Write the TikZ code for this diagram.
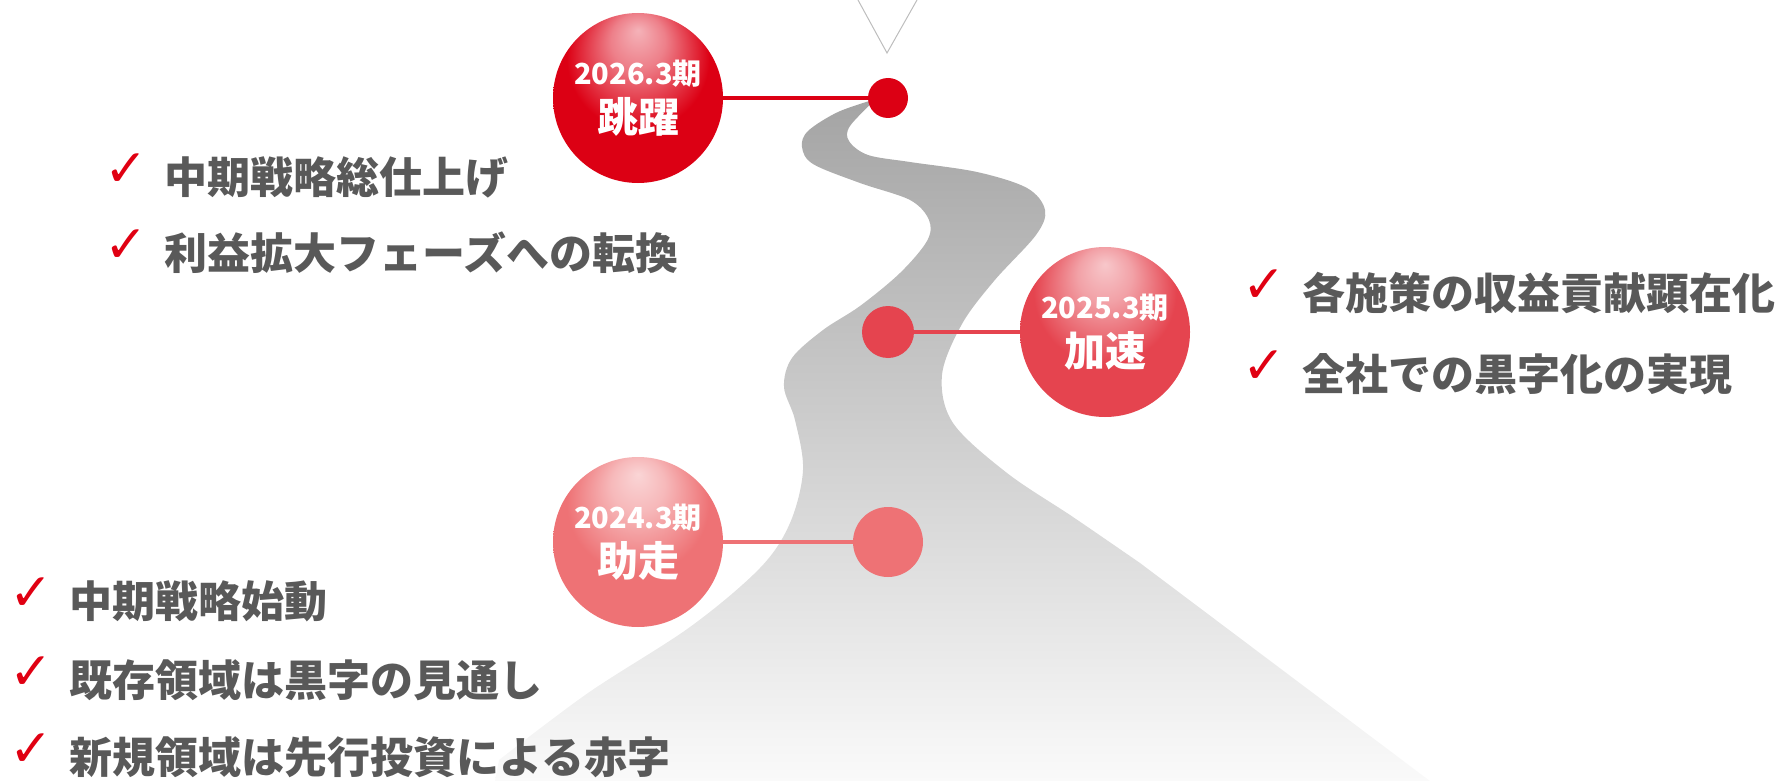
\documentclass[tikz,border=0pt]{standalone}
\usepackage{fontspec}
\setmainfont{Noto Sans CJK JP}
\newfontfamily\symfont{DejaVu Sans}
\usetikzlibrary{positioning}

\definecolor{leap}{HTML}{DC0014}
\definecolor{speed}{HTML}{E5444F}
\definecolor{runup}{HTML}{EE7275}
\definecolor{mark}{HTML}{E00012}
\definecolor{textgray}{HTML}{595959}
\definecolor{vgray}{HTML}{BDBDBD}
\definecolor{roadtop}{HTML}{A4A4A4}
\definecolor{roadmid}{HTML}{DEDEDE}
\definecolor{roadbot}{HTML}{FAFAFA}
\colorlet{tone}{leap}

% glossy ball: light spot near the top, solid colour below
\pgfdeclareradialshading[tone]{glossy}{\pgfpoint{0bp}{20bp}}{color(0bp)=(tone!30!white); color(8bp)=(tone!50!white); color(21bp)=(tone); color(50bp)=(tone)}

\newcommand{\tick}{\textcolor{mark}{\raisebox{7pt}{\symfont\fontsize{52}{52}\selectfont ✓}}\hspace{17pt}}

\tikzset{
	tone/.code={\colorlet{tone}{#1}},
	ball/.style={circle, minimum size=170pt, inner sep=0pt, shading=glossy, tone=#1, text=white, align=center, font=\bfseries\fontsize{29}{48}\selectfont},
	waypoint/.style={circle, inner sep=0pt},
	link/.style={line width=4pt},
	goal/.style={anchor=west, inner sep=0pt, text=textgray, font=\bfseries\fontsize{43}{43}\selectfont},
}

\begin{document}
\begin{tikzpicture}[x=1pt, y=-1pt]
	\useasboundingbox (0,0) rectangle (1775,781);

	% the road
	\shade[top color=roadtop, middle color=roadmid, bottom color=roadbot]
		plot[smooth, tension=0.55] coordinates {(876,99) (850,126) (849,141) (868,155) (910,162) (977,172) (1027,188) (1045,210) (1036,235) (994,281) (962,324) (942,375) (953,423) (1007,473) (1073,517) (1140,563)}
		-- (1430,781) -- (495,781)
		-- plot[smooth, tension=0.55] coordinates {(499,760) (588,693) (690,627) (760,568) (790,523) (803,470) (795,420) (784,387) (792,358) (823,330) (860,306) (900,273) (927,241) (929,220) (910,200) (860,183) (813,164) (802,147) (808,131) (838,112) (876,99)}
		-- cycle;
	\draw[vgray, line width=1pt] (858,0) -- (887,53) -- (917,0);

	% milestones
	\node[ball=leap] (ball26) at (638,98) {2026.3期\\{\fontsize{41}{48}\selectfont 跳躍}};
	\node[waypoint, fill=leap, minimum size=40pt] (dot26) at (888,98) {};
	\node[ball=speed] (ball25) at (1105,332) {2025.3期\\{\fontsize{41}{48}\selectfont 加速}};
	\node[waypoint, fill=speed, minimum size=52pt] (dot25) at (888,332) {};
	\node[ball=runup] (ball24) at (638,542) {2024.3期\\{\fontsize{41}{48}\selectfont 助走}};
	\node[waypoint, fill=runup, minimum size=70pt] (dot24) at (888,542) {};

	\draw[link, leap] (ball26) -- (dot26);
	\draw[link, speed] (dot25) -- (ball25);
	\draw[link, runup] (ball24) -- (dot24);

	% goals per period
	\node[goal] (aim26a) at (104,176) {\tick 中期戦略総仕上げ};
	\node[goal] (aim26b) at (104,252) {\tick 利益拡大フェーズへの転換};
	\node[goal] (aim25a) at (1242,292) {\tick 各施策の収益貢献顕在化};
	\node[goal] (aim25b) at (1242,373) {\tick 全社での黒字化の実現};
	\node[goal] (aim24a) at (9,600) {\tick 中期戦略始動};
	\node[goal] (aim24b) at (9,679) {\tick 既存領域は黒字の見通し};
	\node[goal] (aim24c) at (9,756) {\tick 新規領域は先行投資による赤字};
\end{tikzpicture}
\end{document}
